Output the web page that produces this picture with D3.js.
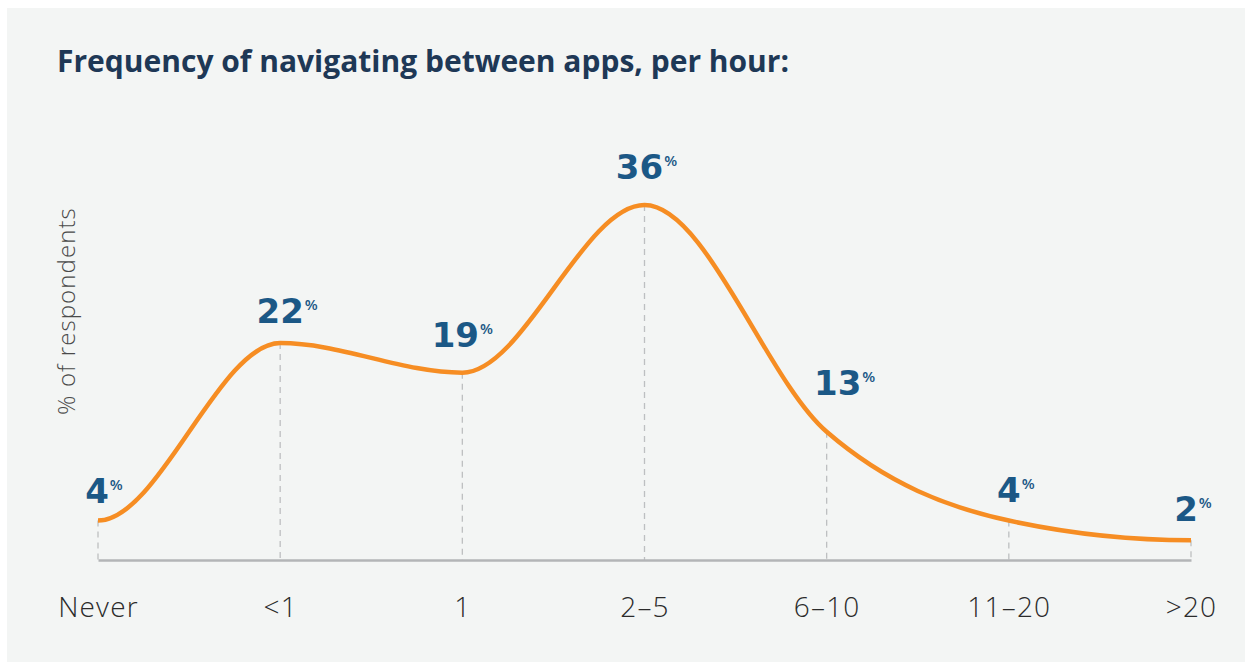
<!DOCTYPE html>
<html>
<head>
<meta charset="utf-8">
<script src="https://cdn.jsdelivr.net/npm/d3@7"></script>
<style>
  html, body { margin: 0; padding: 0; background: #fff; }
  svg { display: block; }
</style>
</head>
<body>
<div id="chart"></div>
<script>
// categories + values
var categories = ["Never", "<1", "1", "2\u20135", "6\u201310", "11\u201320", ">20"];
var percents = [4, 22, 19, 36, 13, 4, 2];

// per-label nudges (dx, dy) from the point, the original placed them by hand
var labelNudge = [[-1, -18], [0, -20], [-7, -26], [-5, -26], [11, -37], [0, -19], [-5, -19]];

var W = 1245, H = 662;
var svg = d3.select("#chart").append("svg").attr("width", W).attr("height", H);

svg.append("rect").attr("x", 7).attr("y", 8).attr("width", W - 7).attr("height", H - 8)
    .attr("fill", "#f3f5f4");

svg.append("text").attr("x", 57).attr("y", 72)
    .attr("font-family", "'Open Sans', sans-serif").attr("font-weight", 700)
    .attr("font-size", 30).attr("fill", "#1e3856")
    .text("Frequency of navigating between apps, per hour:");

var x = d3.scalePoint().domain(categories).range([98, 1191]);
var y = d3.scaleLinear().domain([0, 40]).range([560, 165.6]);

var pts = categories.map(function (c, i) { return {cat: c, v: percents[i]}; });

// dashed drops
svg.append("g").selectAll("line").data(pts).enter().append("line")
    .attr("x1", function (d) { return x(d.cat); }).attr("x2", function (d) { return x(d.cat); })
    .attr("y1", function (d) { return y(d.v); }).attr("y2", y(0))
    .attr("stroke", "#bdbfc1").attr("stroke-width", 1.3).attr("stroke-dasharray", "6,5");

// baseline axis
var xAxis = svg.append("g").attr("transform", "translate(0," + y(0) + ")")
    .call(d3.axisBottom(x).tickSize(0).tickPadding(37));
xAxis.select(".domain").attr("stroke", "#b3b5b7").attr("stroke-width", 2.5);
xAxis.selectAll("text").attr("font-family", "'Open Sans', sans-serif")
    .attr("font-weight", 300).attr("font-size", 28).attr("letter-spacing", 1.2)
    .attr("fill", "#2b2b2b");

// curve: monotone-style tangents inside, flat at both ends
function smoothPath(p) {
    var n = p.length, t = [];
    for (var i = 0; i < n; i++) {
        if (i == 0 || i == n - 1) { t.push(0); continue; }
        var h0 = p[i][0] - p[i - 1][0], h1 = p[i + 1][0] - p[i][0];
        var s0 = (p[i][1] - p[i - 1][1]) / h0, s1 = (p[i + 1][1] - p[i][1]) / h1;
        var q = (s0 * h1 + s1 * h0) / (h0 + h1);
        t.push((Math.sign(s0) + Math.sign(s1)) * Math.min(Math.abs(s0), Math.abs(s1), 0.5 * Math.abs(q)) || 0);
    }
    var path = d3.path();
    path.moveTo(p[0][0], p[0][1]);
    for (var j = 1; j < n; j++) {
        var dx = (p[j][0] - p[j - 1][0]) / 3;
        path.bezierCurveTo(p[j - 1][0] + dx, p[j - 1][1] + dx * t[j - 1],
            p[j][0] - dx, p[j][1] - dx * t[j], p[j][0], p[j][1]);
    }
    return path.toString();
}
svg.append("path")
    .attr("d", smoothPath(pts.map(function (d) { return [x(d.cat), y(d.v)]; })))
    .attr("fill", "none").attr("stroke", "#f68d23").attr("stroke-width", 4.5);

// value labels
var lab = svg.append("g").selectAll("text").data(pts).enter().append("text")
    .attr("x", function (d, i) { return x(d.cat) + labelNudge[i][0]; })
    .attr("y", function (d, i) { return y(d.v) + labelNudge[i][1]; })
    .attr("text-anchor", "middle")
    .attr("font-family", "'DejaVu Sans', sans-serif").attr("font-weight", 700)
    .attr("font-size", 34).attr("fill", "#1b5886");
lab.append("tspan").text(function (d) { return d.v; });
lab.each(function () {
    // superscript % goes after the number, number stays centred
    var t = d3.select(this);
    var w = this.getComputedTextLength();
    t.append("tspan").attr("font-family", "'Open Sans', sans-serif").attr("font-size", 15)
        .attr("font-weight", 600).attr("dx", 1).attr("dy", -13).text("%");
    t.attr("text-anchor", "start").attr("x", +t.attr("x") - w / 2);
});

// y title
svg.append("text").attr("transform", "translate(75,311) rotate(-90)")
    .attr("text-anchor", "middle")
    .attr("font-family", "'Open Sans', sans-serif").attr("font-weight", 300)
    .attr("font-size", 24).attr("letter-spacing", 1.1).attr("fill", "#4a4a4a")
    .text("% of respondents");
</script>
</body>
</html>
